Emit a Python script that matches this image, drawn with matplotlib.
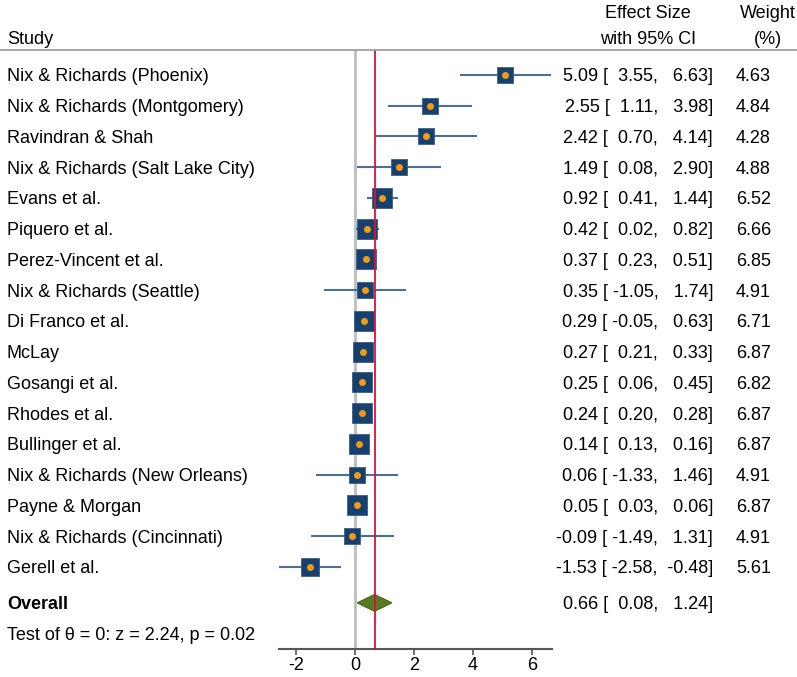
import numpy as np
import matplotlib
matplotlib.use('Agg')
import matplotlib.pyplot as plt
from matplotlib.patches import Polygon
from matplotlib.transforms import blended_transform_factory

plt.rcParams['font.family'] = ['Liberation Sans', 'DejaVu Sans']

studies = ['Nix & Richards (Phoenix)', 'Nix & Richards (Montgomery)', 'Ravindran & Shah',
           'Nix & Richards (Salt Lake City)', 'Evans et al.', 'Piquero et al.',
           'Perez-Vincent et al.', 'Nix & Richards (Seattle)', 'Di Franco et al.', 'McLay',
           'Gosangi et al.', 'Rhodes et al.', 'Bullinger et al.', 'Nix & Richards (New Orleans)',
           'Payne & Morgan', 'Nix & Richards (Cincinnati)', 'Gerell et al.']
est = [5.09, 2.55, 2.42, 1.49, 0.92, 0.42, 0.37, 0.35, 0.29, 0.27, 0.25, 0.24, 0.14, 0.06, 0.05, -0.09, -1.53]
lo = [3.55, 1.11, 0.70, 0.08, 0.41, 0.02, 0.23, -1.05, -0.05, 0.21, 0.06, 0.20, 0.13, -1.33, 0.03, -1.49, -2.58]
hi = [6.63, 3.98, 4.14, 2.90, 1.44, 0.82, 0.51, 1.74, 0.63, 0.33, 0.45, 0.28, 0.16, 1.46, 0.06, 1.31, -0.48]
weight = [4.63, 4.84, 4.28, 4.88, 6.52, 6.66, 6.85, 4.91, 6.71, 6.87, 6.82, 6.87, 6.87, 4.91, 6.87, 4.91, 5.61]
overall = (0.66, 0.08, 1.24)
test_label = 'Test of θ = 0: z = 2.24, p = 0.02'
xticks = [-2, 0, 2, 4, 6]

W, H = 797, 677
fig = plt.figure(figsize=(W / 100, H / 100), dpi=100)
ax = fig.add_axes([279 / W, 1 - 649 / H, (552 - 279) / W, (649 - 50) / H])

rows = np.arange(len(studies))
y_over = 17.17
y_test = 18.18
ax.set_ylim(18.67, -0.81)
ax.set_xlim(-2.58, 6.68)

ax.axvline(0, color='#bdbdbd', lw=2, zorder=1)
ax.axvline(overall[0], color='#d6123c', lw=1.3, zorder=4)

sq = '#17406f'
ax.hlines(rows, lo, hi, color='#4b6f98', lw=1.5, zorder=2)
for y, e, w in zip(rows, est, weight):
    ax.plot(e, y, marker='s', ms=5.5 * np.sqrt(w), color=sq, mec='#3a5f8a', mew=0.6, zorder=3)
ax.plot(est, rows, 'o', ms=4, color='#f39c12', ls='none', zorder=5)

dh = 0.27
ax.add_patch(Polygon([[overall[1], y_over], [overall[0], y_over - dh], [overall[2], y_over],
                      [overall[0], y_over + dh]], closed=True, fc='#587a22', ec='#4b6a1a', zorder=3))

for s in ['left', 'top', 'right']:
    ax.spines[s].set_visible(False)
ax.spines['bottom'].set_color('#555555')
ax.spines['bottom'].set_linewidth(1.5)
ax.set_xticks(xticks)
ax.set_xticklabels([str(t) for t in xticks], fontsize=13)
ax.tick_params(axis='x', length=4, width=1.2, color='#555555', pad=2)
ax.set_yticks([])

# text columns, x in figure pixels
tr = blended_transform_factory(fig.transFigure, ax.transData)
fx = lambda px: px / W
fs = 13
va = 'center_baseline'


def effect_text(e, l, h):
    return f'{e:5.2f} [{l:6.2f}, {h:6.2f}]'


for y, s, e, l, h, w in zip(rows, studies, est, lo, hi, weight):
    ax.text(fx(7), y, s, ha='left', va=va, fontsize=fs, transform=tr)
    ax.text(fx(713), y, effect_text(e, l, h), ha='right', va=va, fontsize=fs, transform=tr)
    ax.text(fx(771), y, f'{w:.2f}', ha='right', va=va, fontsize=fs, transform=tr)

ax.text(fx(7), y_over, 'Overall', ha='left', va=va, fontsize=fs, fontweight='bold', transform=tr)
ax.text(fx(713), y_over, effect_text(*overall), ha='right', va=va, fontsize=fs, transform=tr)
ax.text(fx(7), y_test, test_label, ha='left', va=va, fontsize=fs, transform=tr)

# header
fig.text(fx(7), 1 - 37 / H, 'Study', ha='left', va=va, fontsize=fs)
fig.text(fx(648), 1 - 12 / H, 'Effect Size', ha='center', va=va, fontsize=fs)
fig.text(fx(648), 1 - 37 / H, 'with 95% CI', ha='center', va=va, fontsize=fs)
fig.text(fx(768), 1 - 12 / H, 'Weight', ha='center', va=va, fontsize=fs)
fig.text(fx(768), 1 - 37 / H, '(%)', ha='center', va=va, fontsize=fs)
fig.add_artist(plt.Line2D([0, 1], [1 - 50 / H, 1 - 50 / H], transform=fig.transFigure,
                          color='#9a9a9a', lw=1.2))

fig.savefig('out.png', dpi=100)
